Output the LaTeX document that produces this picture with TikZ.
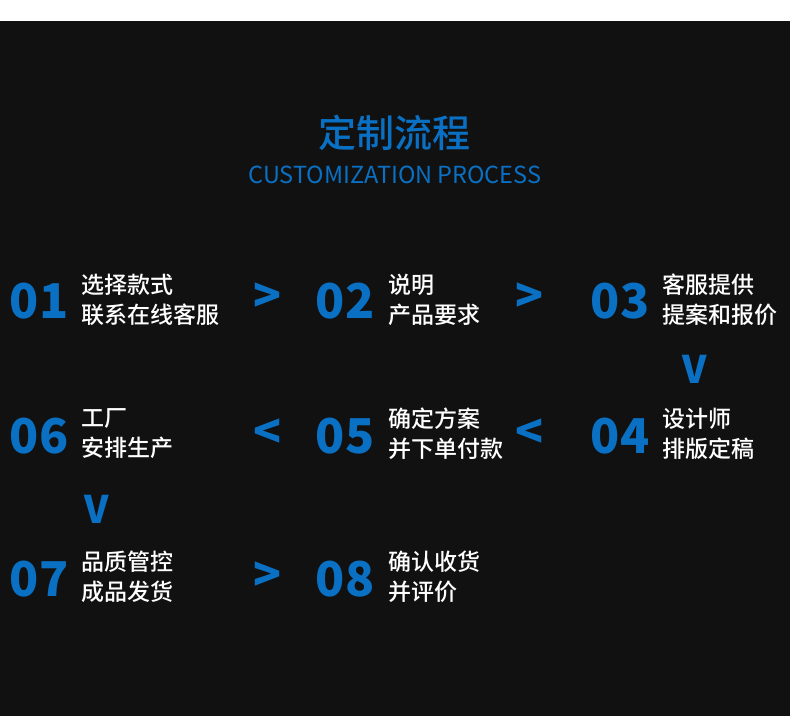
\documentclass[tikz,border=0pt]{standalone}
\usepackage{fontspec}
\setmainfont{Noto Sans CJK SC}
\newfontface\medfont{Noto Sans CJK SC Medium}
\usepackage{tikz}
\usetikzlibrary{positioning}
\definecolor{pgdark}{HTML}{111111}
\definecolor{pgblue}{HTML}{0A70C4}

\begin{document}
\begin{tikzpicture}[x=1pt,y=-1pt,
  num/.style={inner sep=0pt,text=pgblue,font=\fontsize{48}{48}\selectfont\bfseries},
  txt/.style={anchor=west,inner sep=0pt,text=white,align=left,font=\fontsize{23}{30}\selectfont\medfont},
  arr/.style={inner sep=0pt,text=pgblue,font=\fontsize{46}{46}\selectfont\bfseries},
  dn/.style={inner sep=0pt,text=pgblue,font=\fontsize{38}{38}\selectfont\bfseries}]
  \useasboundingbox (0,0) rectangle (790,727);
  \fill[white] (0,0) rectangle (790,727);
  \fill[pgdark] (0,21) rectangle (790,716);
  % title
  \node[inner sep=0pt,text=pgblue,font=\fontsize{38}{38}\selectfont\medfont] (ttl) at (394,133) {定制流程};
  \node[inner sep=0pt,text=pgblue,font=\fontsize{23.5}{24}\selectfont] (sub) at (395,175) {CUSTOMIZATION PROCESS};
  % row 1
  \node[num] (n1) at (39,301) {01};
  \node[txt] (t1) at (81,300) {选择款式\\联系在线客服};
  \node[num] (n2) at (345,301) {02};
  \node[txt] (t2) at (388,300) {说明\\产品要求};
  \node[num] (n3) at (620,301) {03};
  \node[txt] (t3) at (662,300) {客服提供\\提案和报价};
  % row 2
  \node[num] (n4) at (620,436) {04};
  \node[txt] (t4) at (662,434) {设计师\\排版定稿};
  \node[num] (n5) at (345,436) {05};
  \node[txt] (t5) at (388,434) {确定方案\\并下单付款};
  \node[num] (n6) at (39,436) {06};
  \node[txt] (t6) at (81,434) {工厂\\安排生产};
  % row 3
  \node[num] (n7) at (39,579) {07};
  \node[txt] (t7) at (81,577) {品质管控\\成品发货};
  \node[num] (n8) at (345,579) {08};
  \node[txt] (t8) at (388,577) {确认收货\\并评价};
  % step marks
  \node[arr] (a12) at (268,298) {>};
  \node[arr] (a23) at (530,298) {>};
  \node[dn]  (a34) at (695,369) {V};
  \node[arr] (a45) at (530,434) {<};
  \node[arr] (a56) at (268,434) {<};
  \node[dn]  (a67) at (97,509) {V};
  \node[arr] (a78) at (268,577) {>};
\end{tikzpicture}
\end{document}
